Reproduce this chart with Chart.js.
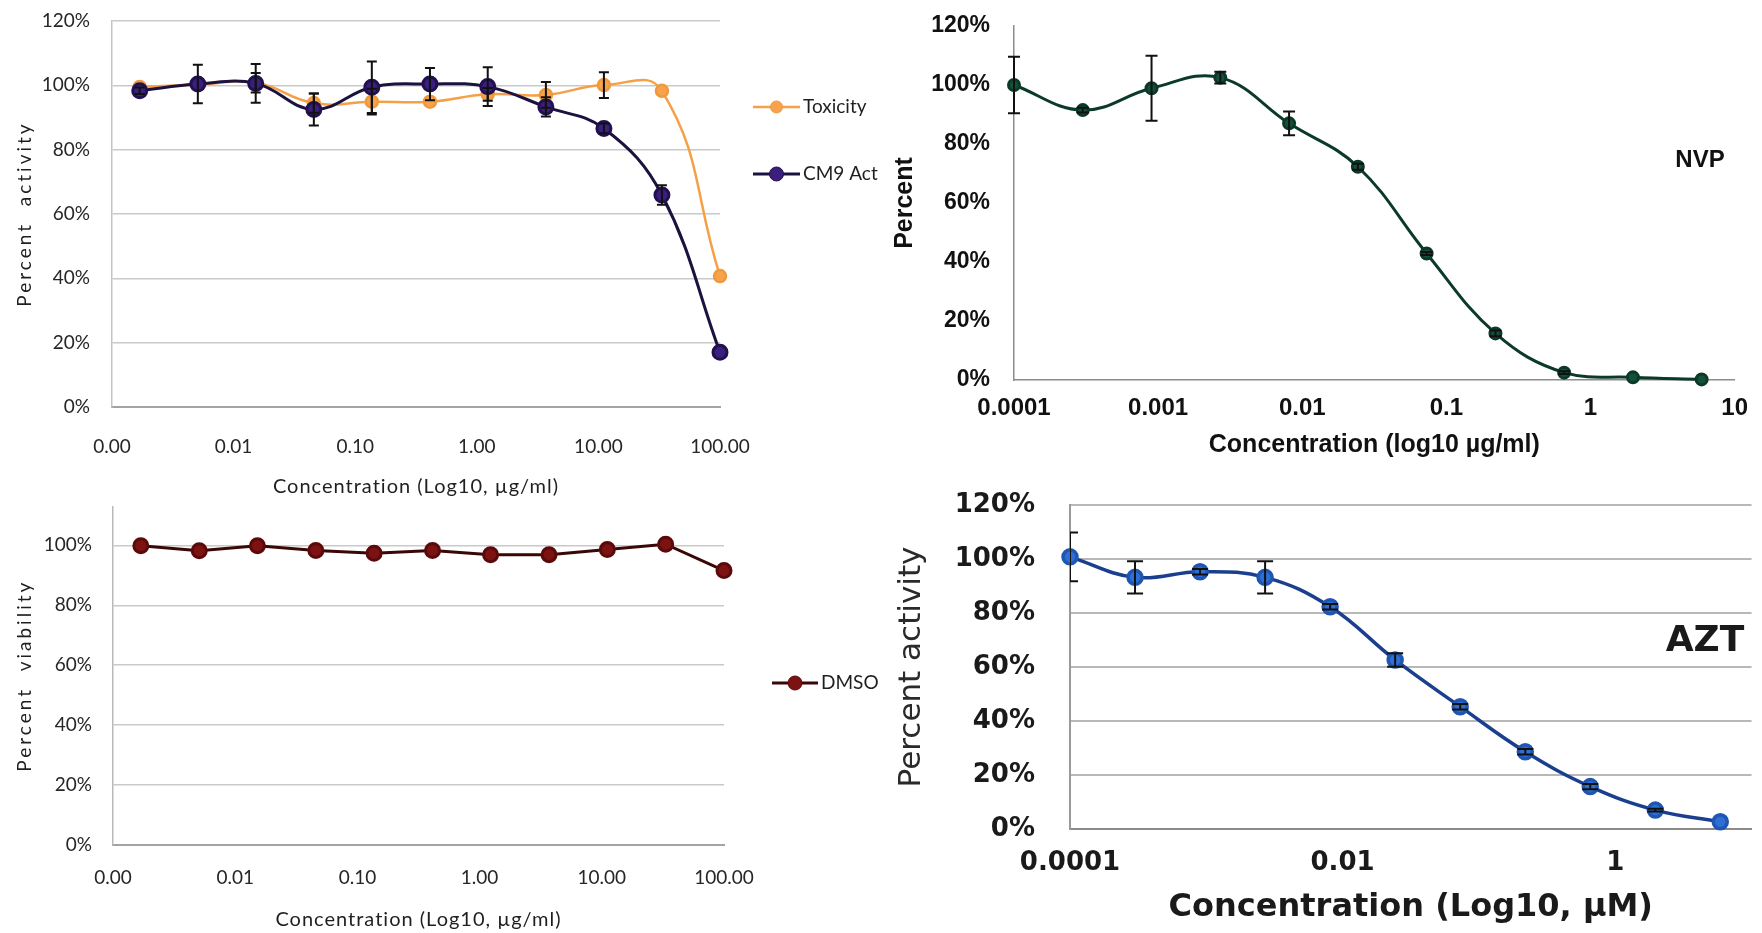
<!DOCTYPE html>
<html>
<head>
<meta charset="utf-8">
<title>Dose response panels</title>
<script src="https://cdn.jsdelivr.net/npm/chart.js@4.4.0/dist/chart.umd.min.js"></script>
<style>
html, body { margin: 0; padding: 0; background: #fff; }
body { width: 1762px; height: 933px; position: relative; overflow: hidden; }
canvas { position: absolute; }
#cm9  { left: 0;     top: 0; }
#dmso { left: 0;     top: 495px; }
#nvp  { left: 880px; top: 0; }
#azt  { left: 880px; top: 480px; }
</style>
</head>
<body>
<canvas id="cm9" width="880" height="500"></canvas>
<canvas id="dmso" width="880" height="438"></canvas>
<canvas id="nvp" width="882" height="470"></canvas>
<canvas id="azt" width="882" height="453"></canvas>
<script>
/******************************************************************/
// DATOS
/******************************************************************/
// concentraciones ug/ml (dilucion 1:3)
var concUg = [0.00169, 0.00508, 0.0152, 0.0457, 0.137, 0.412, 1.23, 3.70, 11.1, 33.3, 100];
var toxicity    = [99.5, 100.2, 100.8, 94.5, 94.9, 94.9, 97.2, 97.0, 100.1, 98.3, 40.7];
var toxicityErr = [0, 0, 3, 3, 4, 0, 2, 4, 4, 0, 0];
var cm9Act      = [98.3, 100.4, 100.6, 92.5, 99.4, 100.4, 99.6, 93.3, 86.6, 65.9, 17.0];
var cm9Err      = [1, 6, 6, 5, 8, 5, 6, 3, 1.5, 3, 0];
var dmso        = [99.9, 98.2, 99.9, 98.3, 97.4, 98.3, 96.9, 96.9, 98.6, 100.4, 91.6];

var ugTicks      = [0.001, 0.01, 0.1, 1, 10, 100];
var ugTickLabels = ['0.00', '0.01', '0.10', '1.00', '10.00', '100.00'];

// NVP (ug/ml)
var concNvp = [0.0001, 0.0003, 0.0009, 0.0027, 0.0081, 0.0243, 0.0729, 0.219, 0.656, 1.97, 5.9];
var nvp     = [100, 91.5, 98.9, 102.5, 87.0, 72.3, 42.9, 15.8, 2.5, 0.9, 0.2];
var nvpErr  = [9.6, 0.8, 11, 2, 4, 1, 0.5, 1, 0.5, 0, 0];
var nvpTicks      = [0.0001, 0.001, 0.01, 0.1, 1, 10];
var nvpTickLabels = ['0.0001', '0.001', '0.01', '0.1', '1', '10'];

// AZT (uM)
var concAzt = [0.0001, 0.0003, 0.0009, 0.0027, 0.0081, 0.0243, 0.0729, 0.219, 0.656, 1.97, 5.9];
var azt     = [100.8, 93.2, 95.3, 93.2, 82.3, 62.6, 45.3, 28.6, 15.7, 7.0, 2.7];
var aztErr  = [9, 6, 1, 6, 1, 2.5, 1, 1, 1, 0.5, 0];
var aztTicks      = [0.0001, 0.01, 1];
var aztTickLabels = ['0.0001', '0.01', '1'];

var pctTicks = [0, 20, 40, 60, 80, 100, 120];

/******************************************************************/
// PLUGINS
/******************************************************************/
// barras de error verticales con tope
var errorBarPlugin = {
  id: 'errorBars',
  afterDatasetsDraw: function(chart, args, opts) {
    var ctx = chart.ctx, area = chart.chartArea;
    var xs = chart.scales.x, ys = chart.scales.y;
    ctx.save();
    if (opts.clip) {
      ctx.beginPath();
      ctx.rect(area.left, area.top, area.right - area.left, area.bottom - area.top);
      ctx.clip();
    }
    ctx.strokeStyle = opts.color || '#000';
    ctx.lineWidth = opts.width || 1.5;
    chart.data.datasets.forEach(function(ds) {
      if (!ds.errorBars) return;
      ds.data.forEach(function(p, i) {
        var e = ds.errorBars[i];
        if (!e) return;
        var x = xs.getPixelForValue(p.x);
        var top = ys.getPixelForValue(p.y + e);
        var bot = ys.getPixelForValue(p.y - e);
        ctx.beginPath();
        ctx.moveTo(x, top); ctx.lineTo(x, bot);
        ctx.moveTo(x - opts.cap, top); ctx.lineTo(x + opts.cap, top);
        ctx.moveTo(x - opts.cap, bot); ctx.lineTo(x + opts.cap, bot);
        ctx.stroke();
      });
    });
    ctx.restore();
  }
};

// leyenda tipo Excel a la derecha
var seriesKeyPlugin = {
  id: 'seriesKey',
  afterDraw: function(chart, args, opts) {
    if (!opts.items) return;
    var ctx = chart.ctx;
    ctx.save();
    ctx.font = opts.font;
    ctx.textBaseline = 'middle';
    ctx.textAlign = 'left';
    opts.items.forEach(function(idx, k) {
      var ds = chart.data.datasets[idx];
      var y = opts.y + k * opts.gap;
      ctx.strokeStyle = ds.borderColor;
      ctx.lineWidth = ds.borderWidth;
      ctx.beginPath();
      ctx.moveTo(opts.x, y);
      ctx.lineTo(opts.x + opts.lineLen, y);
      ctx.stroke();
      ctx.beginPath();
      ctx.arc(opts.x + opts.lineLen / 2, y, ds.pointRadius, 0, Math.PI * 2);
      ctx.fillStyle = ds.pointBackgroundColor;
      ctx.fill();
      ctx.lineWidth = 1;
      ctx.strokeStyle = ds.pointBorderColor;
      ctx.stroke();
      ctx.fillStyle = opts.color;
      ctx.fillText(ds.label, opts.x + opts.lineLen + 3, y);
    });
    ctx.restore();
  }
};

// titulos de ejes con espaciado entre letras
var spacedTitlePlugin = {
  id: 'spacedTitles',
  afterDraw: function(chart, args, opts) {
    if (!opts.x) return;
    var ctx = chart.ctx, xs = chart.scales.x, ys = chart.scales.y;
    ctx.save();
    ctx.fillStyle = opts.color;
    ctx.textAlign = 'center';
    ctx.textBaseline = 'middle';
    ctx.font = opts.x.font;
    ctx.letterSpacing = opts.x.spacing;
    ctx.fillText(opts.x.text, (xs.left + xs.right) / 2, xs.bottom - opts.x.offset);
    ctx.font = opts.y.font;
    ctx.letterSpacing = opts.y.spacing;
    ctx.translate(ys.left + opts.y.offset, (ys.top + ys.bottom) / 2);
    ctx.rotate(-Math.PI / 2);
    ctx.fillText(opts.y.text, 0, 0);
    ctx.letterSpacing = '0px';
    ctx.restore();
  }
};

// rotulo del farmaco dentro del grafico
var tagPlugin = {
  id: 'tag',
  afterDraw: function(chart, args, opts) {
    if (!opts.text) return;
    var ctx = chart.ctx;
    ctx.save();
    ctx.font = opts.font;
    ctx.fillStyle = opts.color;
    ctx.textAlign = 'center';
    ctx.textBaseline = 'middle';
    ctx.fillText(opts.text, opts.x, opts.y);
    ctx.restore();
  }
};

/******************************************************************/
// AYUDAS
/******************************************************************/
function pts(xs, ys) {
  return xs.map(function(x, i) { return { x: x, y: ys[i] }; });
}
function fixTicks(list, maxV) {
  return function(axis) {
    axis.ticks = list.filter(function(v) { return maxV === undefined || v <= maxV; })
                     .map(function(v) { return { value: v }; });
  };
}
function tickText(labels) {
  return function(value, index) { return labels[index]; };
}
function pct(value) { return value + '%'; }

// la separacion etiqueta-eje va como marca invisible (ticks.padding empuja el area hacia abajo)
var HIDE = 'rgba(0,0,0,0)';

var plugins = [errorBarPlugin, seriesKeyPlugin, spacedTitlePlugin, tagPlugin];
var base = { responsive: false, animation: false, events: [] };

/******************************************************************/
// CM9: actividad y toxicidad
/******************************************************************/
new Chart(document.getElementById('cm9'), {
  type: 'line',
  data: {
    datasets: [{
      label: 'Toxicity',
      data: pts(concUg, toxicity),
      errorBars: toxicityErr,
      borderColor: '#f5a046',
      pointBackgroundColor: '#f7a34e',
      pointBorderColor: '#f0993c',
      borderWidth: 2.5,
      pointRadius: 6,
      tension: 0.45,
      order: 2,
      clip: false
    }, {
      label: 'CM9 Act',
      data: pts(concUg, cm9Act),
      errorBars: cm9Err,
      borderColor: '#1b1240',
      pointBackgroundColor: '#3a1f7c',
      pointBorderColor: '#23114f',
      borderWidth: 3,
      pointRadius: 7,
      tension: 0.4,
      order: 1,
      clip: false
    }]
  },
  options: Object.assign({}, base, {
    layout: { padding: { top: 21, right: 160, left: 0, bottom: 0 } },
    plugins: {
      legend: { display: false },
      tooltip: { enabled: false },
      errorBars: { color: '#111', width: 2, cap: 5 },
      seriesKey: { items: [0, 1], x: 753, y: 107, gap: 67, lineLen: 47, font: '19px Lato', color: '#1f1f1f' },
      spacedTitles: {
        color: '#1f1f1f',
        x: { text: 'Concentration (Log10, µg/ml)', font: '20px Lato', spacing: '1px', offset: 13 },
        y: { text: 'Percent  activity', font: '19px Lato', spacing: '3px', offset: 25 }
      }
    },
    scales: {
      x: {
        type: 'logarithmic', min: 0.001, max: 100,
        afterBuildTicks: fixTicks(ugTicks),
        afterFit: function(a) { a.height = 93; },
        grid: { display: false, drawTicks: false },
        border: { display: true, color: '#a3a3a3', width: 2 },
        ticks: { autoSkip: false, maxRotation: 0, padding: 28, color: '#262626',
                 font: { family: 'Lato', size: 19 }, callback: tickText(ugTickLabels) }
      },
      y: {
        min: 0, max: 120,
        afterBuildTicks: fixTicks(pctTicks),
        afterFit: function(a) { a.width = 112; },
        grid: { color: '#c9c9c9', lineWidth: 1.5, drawTicks: true, tickLength: 22, tickColor: HIDE },
        border: { display: true, color: '#c4c4c4', width: 1.5 },
        ticks: { padding: 0, color: '#262626', font: { family: 'Lato', size: 19 }, callback: pct }
      }
    }
  }),
  plugins: plugins
});

/******************************************************************/
// DMSO: viabilidad
/******************************************************************/
new Chart(document.getElementById('dmso'), {
  type: 'line',
  data: {
    datasets: [{
      label: 'DMSO',
      data: pts(concUg, dmso),
      borderColor: '#3a0707',
      pointBackgroundColor: '#7d1212',
      pointBorderColor: '#5a0a0a',
      borderWidth: 3,
      pointRadius: 7,
      tension: 0,
      clip: false
    }]
  },
  options: Object.assign({}, base, {
    layout: { padding: { top: 10, right: 156, left: 0, bottom: 0 } },
    plugins: {
      legend: { display: false },
      tooltip: { enabled: false },
      seriesKey: { items: [0], x: 772, y: 188, gap: 0, lineLen: 46, font: '19px Lato', color: '#1f1f1f' },
      spacedTitles: {
        color: '#1f1f1f',
        x: { text: 'Concentration (Log10, µg/ml)', font: '20px Lato', spacing: '1px', offset: 13 },
        y: { text: 'Percent  viability', font: '19px Lato', spacing: '3px', offset: 25 }
      }
    },
    scales: {
      x: {
        type: 'logarithmic', min: 0.001, max: 100,
        afterBuildTicks: fixTicks(ugTicks),
        afterFit: function(a) { a.height = 88; },
        grid: { display: false, drawTicks: false },
        border: { display: true, color: '#a3a3a3', width: 2 },
        ticks: { autoSkip: false, maxRotation: 0, padding: 21, color: '#262626',
                 font: { family: 'Lato', size: 19 }, callback: tickText(ugTickLabels) }
      },
      y: {
        min: 0, max: 113,
        afterBuildTicks: fixTicks(pctTicks, 113),
        afterFit: function(a) { a.width = 113; },
        grid: { color: '#c9c9c9', lineWidth: 1.5, drawTicks: true, tickLength: 21, tickColor: HIDE },
        border: { display: true, color: '#b9b9b9', width: 1.5 },
        ticks: { padding: 0, color: '#262626', font: { family: 'Lato', size: 19 }, callback: pct }
      }
    }
  }),
  plugins: plugins
});

/******************************************************************/
// NVP
/******************************************************************/
new Chart(document.getElementById('nvp'), {
  type: 'line',
  data: {
    datasets: [{
      label: 'NVP',
      data: pts(concNvp, nvp),
      errorBars: nvpErr,
      borderColor: '#0c3a28',
      pointBackgroundColor: '#14503a',
      pointBorderColor: '#0c3a28',
      borderWidth: 3,
      pointRadius: 5.5,
      tension: 0.4,
      clip: false
    }]
  },
  options: Object.assign({}, base, {
    layout: { padding: { top: 26, right: 14, left: 0, bottom: 0 } },
    plugins: {
      legend: { display: false },
      tooltip: { enabled: false },
      errorBars: { color: '#111', width: 2, cap: 6 },
      tag: { text: 'NVP', x: 820, y: 160, font: 'bold 24px "Liberation Sans"', color: '#111' }
    },
    scales: {
      x: {
        type: 'logarithmic', min: 0.0001, max: 10,
        afterBuildTicks: fixTicks(nvpTicks),
        afterFit: function(a) { a.height = 90; },
        grid: { display: false, drawTicks: false },
        border: { display: true, color: '#8c8c8c', width: 1.5 },
        ticks: { autoSkip: false, maxRotation: 0, padding: 14, color: '#111',
                 font: { family: 'Liberation Sans', size: 24, weight: 'bold' }, callback: tickText(nvpTickLabels) },
        title: { display: true, text: 'Concentration (log10 µg/ml)', color: '#111', padding: { top: 0, bottom: 10 },
                 font: { family: 'Liberation Sans', size: 25, weight: 'bold' } }
      },
      y: {
        min: 0, max: 120,
        afterBuildTicks: fixTicks(pctTicks),
        afterFit: function(a) { a.width = 134; },
        grid: { display: false, drawTicks: true, tickLength: 24, tickColor: HIDE },
        border: { display: true, color: '#8c8c8c', width: 1.5 },
        ticks: { padding: 0, color: '#111', font: { family: 'Liberation Sans', size: 23, weight: 'bold' }, callback: pct },
        title: { display: true, text: 'Percent', color: '#111', padding: { top: 10, bottom: 0 },
                 font: { family: 'Liberation Sans', size: 25, weight: 'bold' } }
      }
    }
  }),
  plugins: plugins
});

/******************************************************************/
// AZT
/******************************************************************/
new Chart(document.getElementById('azt'), {
  type: 'line',
  data: {
    datasets: [{
      label: 'AZT',
      data: pts(concAzt, azt),
      errorBars: aztErr,
      borderColor: '#1a3f8e',
      pointBackgroundColor: '#2f6fd4',
      pointBorderColor: '#1f56b2',
      borderWidth: 3.5,
      pointRadius: 7,
      tension: 0.4,
      clip: false
    }]
  },
  options: Object.assign({}, base, {
    layout: { padding: { top: 25, right: 7, left: 0, bottom: 0 } },
    plugins: {
      legend: { display: false },
      tooltip: { enabled: false },
      errorBars: { color: '#111', width: 2, cap: 8, clip: true },
      tag: { text: 'AZT', x: 825, y: 162, font: 'bold 36px "DejaVu Sans"', color: '#1a1a1a' }
    },
    scales: {
      x: {
        type: 'logarithmic', min: 0.0001, max: 10,
        afterBuildTicks: fixTicks(aztTicks),
        afterFit: function(a) { a.height = 104; },
        grid: { display: false, drawTicks: false },
        border: { display: true, color: '#8a8a8a', width: 2 },
        ticks: { autoSkip: false, maxRotation: 0, padding: 19, color: '#1a1a1a',
                 font: { family: 'DejaVu Sans', size: 26, weight: 'bold' }, callback: tickText(aztTickLabels) },
        title: { display: true, text: 'Concentration (Log10, µM)', color: '#1a1a1a', padding: { top: 0, bottom: 6 },
                 font: { family: 'DejaVu Sans', size: 32, weight: 'bold' } }
      },
      y: {
        min: 0, max: 120,
        afterBuildTicks: fixTicks(pctTicks),
        afterFit: function(a) { a.width = 190; },
        grid: { color: '#b8b8b8', lineWidth: 2, drawTicks: true, tickLength: 35, tickColor: HIDE },
        border: { display: true, color: '#9a9a9a', width: 2 },
        ticks: { padding: 0, color: '#1a1a1a', font: { family: 'DejaVu Sans', size: 26, weight: 'bold' }, callback: pct },
        title: { display: true, text: 'Percent activity', color: '#2a2a2a', padding: { top: 13, bottom: 0 },
                 font: { family: 'DejaVu Sans', size: 31 } }
      }
    }
  }),
  plugins: plugins
});
</script>
</body>
</html>
